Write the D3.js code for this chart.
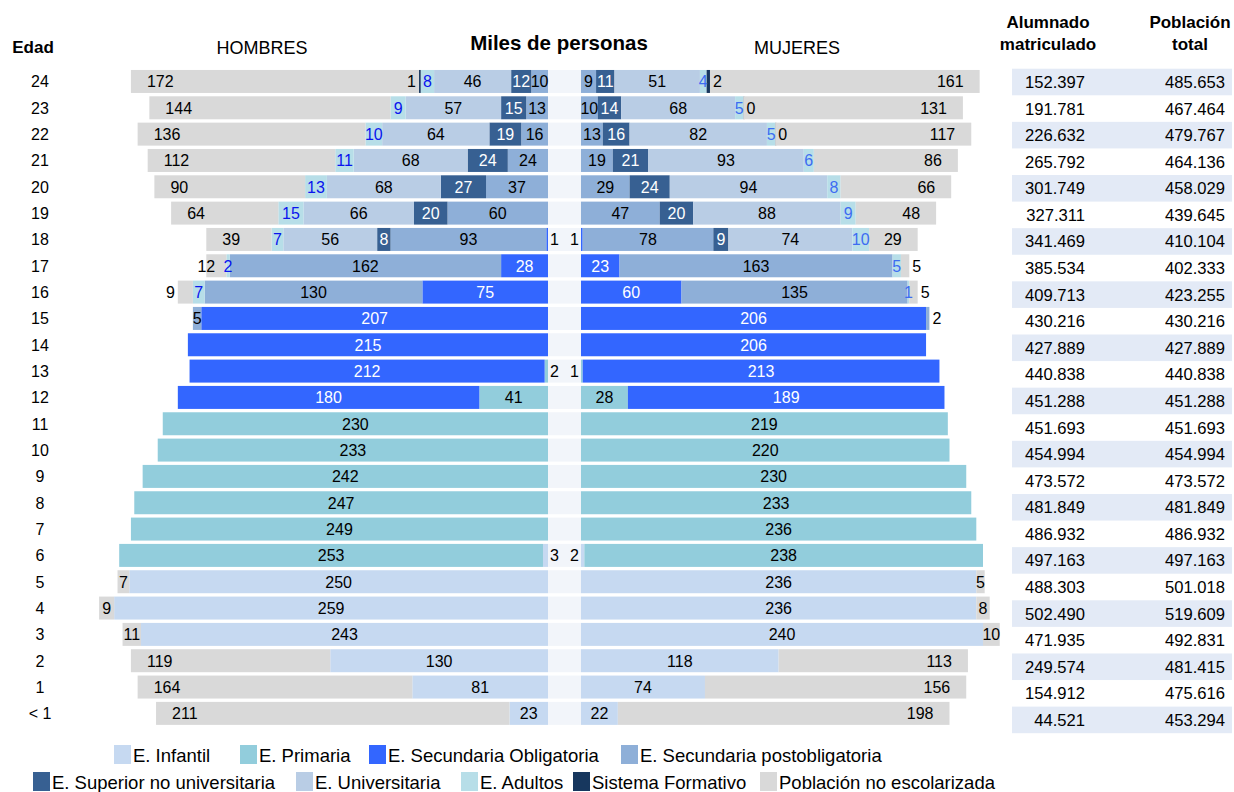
<!DOCTYPE html>
<html>
<head>
<meta charset="utf-8">
<script src="https://cdn.jsdelivr.net/npm/d3@7"></script>
<style>
  body { margin: 0; background: #fff; }
  svg { display: block; font-family: "Liberation Sans", Arial, sans-serif; }
</style>
</head>
<body>
<svg id="chart" width="1234" height="792"></svg>
<script>
'use strict';

// Ages, top to bottom
const ages = ['24', '23', '22', '21', '20', '19', '18', '17', '16', '15', '14', '13', '12',
  '11', '10', '9', '8', '7', '6', '5', '4', '3', '2', '1', '< 1'];

// Stacking order, from the centre outwards
const series = ['Infantil', 'Primaria', 'SecObl', 'PostObl', 'Superior', 'Universitaria',
  'Adultos', 'SistemaFormativo', 'NoEscolarizada'];
const seriesNames = ['E. Infantil', 'E. Primaria', 'E. Secundaria Obligatoria',
  'E. Secundaria postobligatoria', 'E. Superior no universitaria', 'E. Universitaria',
  'E. Adultos', 'Sistema Formativo', 'Población no escolarizada'];
const seriesColors = ['#c6d9f1', '#92cddc', '#3366ff', '#8eafd8', '#376092', '#b9cde5',
  '#b7dee8', '#17375e', '#d9d9d9'];

// HOMBRES (miles de personas)
const menInfantil = [null, null, null, null, null, null, null, null, null, null, null, null, null,
  null, null, null, null, null, 3, 250, 259, 243, 130, 81, 23];
const menPrimaria = [null, null, null, null, null, null, null, null, null, null, null, 2, 41,
  230, 233, 242, 247, 249, 253, null, null, null, null, null, null];
const menSecObl = [null, null, null, null, null, null, 1, 28, 75, 207, 215, 212, 180,
  null, null, null, null, null, null, null, null, null, null, null, null];
const menPostObl = [10, 13, 16, 24, 37, 60, 93, 162, 130, 5, null, null, null,
  null, null, null, null, null, null, null, null, null, null, null, null];
const menSuperior = [12, 15, 19, 24, 27, 20, 8, null, null, null, null, null, null,
  null, null, null, null, null, null, null, null, null, null, null, null];
const menUniversitaria = [46, 57, 64, 68, 68, 66, 56, null, null, null, null, null, null,
  null, null, null, null, null, null, null, null, null, null, null, null];
const menAdultos = [8, 9, 10, 11, 13, 15, 7, 2, 7, null, null, null, null,
  null, null, null, null, null, null, null, null, null, null, null, null];
const menSistemaFormativo = [1, null, null, null, null, null, null, null, null, null, null, null, null,
  null, null, null, null, null, null, null, null, null, null, null, null];
const menNoEscolarizada = [172, 144, 136, 112, 90, 64, 39, 12, 9, null, null, null, null,
  null, null, null, null, null, null, 7, 9, 11, 119, 164, 211];

// MUJERES (miles de personas)
const womenInfantil = [null, null, null, null, null, null, null, null, null, null, null, null, null,
  null, null, null, null, null, 2, 236, 236, 240, 118, 74, 22];
const womenPrimaria = [null, null, null, null, null, null, null, null, null, null, null, 1, 28,
  219, 220, 230, 233, 236, 238, null, null, null, null, null, null];
const womenSecObl = [null, null, null, null, null, null, 1, 23, 60, 206, 206, 213, 189,
  null, null, null, null, null, null, null, null, null, null, null, null];
const womenPostObl = [9, 10, 13, 19, 29, 47, 78, 163, 135, 2, null, null, null,
  null, null, null, null, null, null, null, null, null, null, null, null];
const womenSuperior = [11, 14, 16, 21, 24, 20, 9, null, null, null, null, null, null,
  null, null, null, null, null, null, null, null, null, null, null, null];
const womenUniversitaria = [51, 68, 82, 93, 94, 88, 74, null, null, null, null, null, null,
  null, null, null, null, null, null, null, null, null, null, null, null];
const womenAdultos = [4, 5, 5, 6, 8, 9, 10, 5, 1, null, null, null, null,
  null, null, null, null, null, null, null, null, null, null, null, null];
const womenSistemaFormativo = [2, 0, 0, null, null, null, null, null, null, null, null, null, null,
  null, null, null, null, null, null, null, null, null, null, null, null];
const womenNoEscolarizada = [161, 131, 117, 86, 66, 48, 29, 5, 5, null, null, null, null,
  null, null, null, null, null, null, 5, 8, 10, 113, 156, 198];

// Table columns
const alumnado = [152397, 191781, 226632, 265792, 301749, 327311, 341469, 385534, 409713,
  430216, 427889, 440838, 451288, 451693, 454994, 473572, 481849, 486932, 497163, 488303,
  502490, 471935, 249574, 154912, 44521];
const poblacion = [485653, 467464, 479767, 464136, 458029, 439645, 410104, 402333, 423255,
  430216, 427889, 440838, 451288, 451693, 454994, 473572, 481849, 486932, 497163, 501018,
  519609, 492831, 481415, 475616, 453294];

// Labels that sit beside their bar instead of inside it
const gapLabels = ['H|18|SecObl', 'H|13|Primaria', 'H|6|Infantil',
  'M|18|SecObl', 'M|13|Primaria', 'M|6|Infantil'];
const outwardLabels = ['H|24|SistemaFormativo', 'H|16|NoEscolarizada',
  'M|24|SistemaFormativo', 'M|23|SistemaFormativo', 'M|22|SistemaFormativo',
  'M|17|NoEscolarizada', 'M|16|NoEscolarizada', 'M|15|PostObl'];
const edgeLabels = ['H|17|NoEscolarizada'];

// Legend layout: two rows, swatch x per item
const legendRows = [
  { y: 755, keys: series.slice(0, 4), xs: [114, 240, 369, 621] },
  { y: 782, keys: series.slice(4), xs: [33, 296, 461, 573, 760] }
];

const menSeries = [menInfantil, menPrimaria, menSecObl, menPostObl, menSuperior,
  menUniversitaria, menAdultos, menSistemaFormativo, menNoEscolarizada];
const womenSeries = [womenInfantil, womenPrimaria, womenSecObl, womenPostObl, womenSuperior,
  womenUniversitaria, womenAdultos, womenSistemaFormativo, womenNoEscolarizada];

const CENTER_L = 548;
const CENTER_R = 581;
const PX_PER_K = 1.675;
const FONT = 16;

const color = d3.scaleOrdinal().domain(series).range(seriesColors);
const labelColor = {
  SecObl: '#fff',
  Superior: '#fff'
};

const svg = d3.select('#chart');

const y = d3.scaleBand()
  .domain(ages)
  .range([68.3, 68.3 + 25 * 26.33])
  .paddingInner(0.127)
  .paddingOuter(0.0635);

const xMen = d3.scaleLinear().domain([0, 300]).range([CENTER_L, CENTER_L - 300 * PX_PER_K]);
const xWomen = d3.scaleLinear().domain([0, 300]).range([CENTER_R, CENTER_R + 300 * PX_PER_K]);

function buildRows (arrays) {
  return ages.map((age, i) => {
    let row = { age: age };
    series.forEach((key, s) => { row[key] = arrays[s][i]; });
    return row;
  });
}

const stack = d3.stack()
  .keys(series)
  .value((d, key) => d[key] || 0);

// Centre gap, one light cell per row
svg.append('g')
  .attr('class', 'gap')
  .selectAll('rect')
  .data(ages)
  .enter()
  .append('rect')
    .attr('x', CENTER_L)
    .attr('y', d => y(d))
    .attr('width', CENTER_R - CENTER_L)
    .attr('height', y.bandwidth())
    .attr('fill', '#f2f5fa');

function drawSide (sex, arrays, x) {
  const rows = buildRows(arrays);
  const layers = stack(rows);
  const dir = sex === 'H' ? -1 : 1;
  const g = svg.append('g').attr('class', 'side-' + sex);

  g.selectAll('g.layer')
    .data(layers)
    .enter()
    .append('g')
      .attr('class', 'layer')
      .attr('fill', d => color(d.key))
    .selectAll('rect')
    .data(d => d.filter(p => p.data[d.key] !== null && p.data[d.key] !== undefined))
    .enter()
    .append('rect')
      .attr('x', d => Math.min(x(d[0]), x(d[1])))
      .attr('y', d => y(d.data.age))
      .attr('width', d => Math.max(Math.abs(x(d[1]) - x(d[0])), 1))
      .attr('height', y.bandwidth())
      .attr('opacity', d => d[1] - d[0] === 0 ? 0.45 : 1);

  // Value labels
  let labels = [];
  layers.forEach(layer => {
    layer.forEach(p => {
      let v = p.data[layer.key];
      if (v === null || v === undefined) return;
      let id = sex + '|' + p.data.age + '|' + layer.key;
      let inner = x(p[0]);
      let outer = x(p[1]);
      let lab = { v: v, age: p.data.age, key: layer.key, fill: labelColor[layer.key] || '#000' };
      if (layer.key === 'Adultos') lab.fill = sex === 'H' ? '#0a14ee' : '#3d6cf2';
      if (gapLabels.includes(id)) {
        lab.x = sex === 'H' ? CENTER_L + 2 : CENTER_R - 2;
        lab.anchor = sex === 'H' ? 'start' : 'end';
        lab.fill = '#000';
      } else if (outwardLabels.includes(id)) {
        lab.x = outer + dir * 3;
        lab.anchor = sex === 'H' ? 'end' : 'start';
        lab.fill = '#000';
      } else if (edgeLabels.includes(id)) {
        lab.x = outer;
        lab.anchor = 'middle';
      } else if (layer.key === 'NoEscolarizada' && v >= 20) {
        lab.x = outer - dir * 16;
        lab.anchor = sex === 'H' ? 'start' : 'end';
      } else {
        lab.x = (inner + outer) / 2;
        lab.anchor = 'middle';
      }
      labels.push(lab);
    });
  });

  g.append('g')
    .attr('class', 'labels')
    .selectAll('text')
    .data(labels)
    .enter()
    .append('text')
      .attr('x', d => d.x)
      .attr('y', d => y(d.age) + y.bandwidth() / 2 + 6)
      .attr('text-anchor', d => d.anchor)
      .attr('font-size', FONT)
      .attr('fill', d => d.fill)
      .text(d => d.v);
}

drawSide('H', menSeries, xMen);
drawSide('M', womenSeries, xWomen);

// Age axis
svg.append('g')
  .attr('class', 'ages')
  .selectAll('text')
  .data(ages)
  .enter()
  .append('text')
    .attr('x', 40)
    .attr('y', d => y(d) + y.bandwidth() / 2 + 6)
    .attr('text-anchor', 'middle')
    .attr('font-size', FONT)
    .text(d => d);

// Headers
const headers = svg.append('g').attr('class', 'headers');
headers.append('text').attr('x', 33).attr('y', 53).attr('text-anchor', 'middle')
  .attr('font-size', 17).attr('font-weight', 'bold').text('Edad');
headers.append('text').attr('x', 262).attr('y', 54).attr('text-anchor', 'middle')
  .attr('font-size', 18).text('HOMBRES');
headers.append('text').attr('x', 797).attr('y', 54).attr('text-anchor', 'middle')
  .attr('font-size', 18).text('MUJERES');
headers.append('text').attr('x', 559).attr('y', 50).attr('text-anchor', 'middle')
  .attr('font-size', 20.5).attr('font-weight', 'bold').text('Miles de personas');
[['Alumnado', 'matriculado', 1048], ['Población', 'total', 1190]].forEach(h => {
  headers.append('text').attr('x', h[2]).attr('y', 28).attr('text-anchor', 'middle')
    .attr('font-size', 17).attr('font-weight', 'bold').text(h[0]);
  headers.append('text').attr('x', h[2]).attr('y', 50).attr('text-anchor', 'middle')
    .attr('font-size', 17).attr('font-weight', 'bold').text(h[1]);
});

// Right-hand table
const esFormat = d3.formatLocale({ decimal: ',', thousands: '.', grouping: [3], currency: ['', ''] })
  .format(',d');
const yTable = d3.scaleBand()
  .domain(ages)
  .range([68.7, 68.7 + 25 * 26.58]);

const table = svg.append('g').attr('class', 'table');
table.selectAll('rect')
  .data(ages.filter((a, i) => i % 2 === 0))
  .enter()
  .append('rect')
    .attr('x', 1012)
    .attr('y', d => yTable(d))
    .attr('width', 220)
    .attr('height', yTable.bandwidth())
    .attr('fill', '#e3eaf6');

[[alumnado, 1085], [poblacion, 1225]].forEach(col => {
  table.append('g')
    .selectAll('text')
    .data(col[0])
    .enter()
    .append('text')
      .attr('x', col[1])
      .attr('y', (d, i) => yTable(ages[i]) + yTable.bandwidth() / 2 + 6)
      .attr('text-anchor', 'end')
      .attr('font-size', 16.6)
      .text(d => esFormat(d));
});

// Legend
const legend = svg.append('g').attr('class', 'legend');
legendRows.forEach(row => {
  row.keys.forEach((key, i) => {
    let item = legend.append('g').attr('transform', 'translate(' + row.xs[i] + ',' + row.y + ')');
    item.append('rect')
      .attr('x', 0)
      .attr('y', -10)
      .attr('width', 17)
      .attr('height', 19)
      .attr('fill', color(key));
    item.append('text')
      .attr('x', 19)
      .attr('y', 7)
      .attr('font-size', 18.5)
      .text(seriesNames[series.indexOf(key)]);
  });
});
</script>
</body>
</html>
